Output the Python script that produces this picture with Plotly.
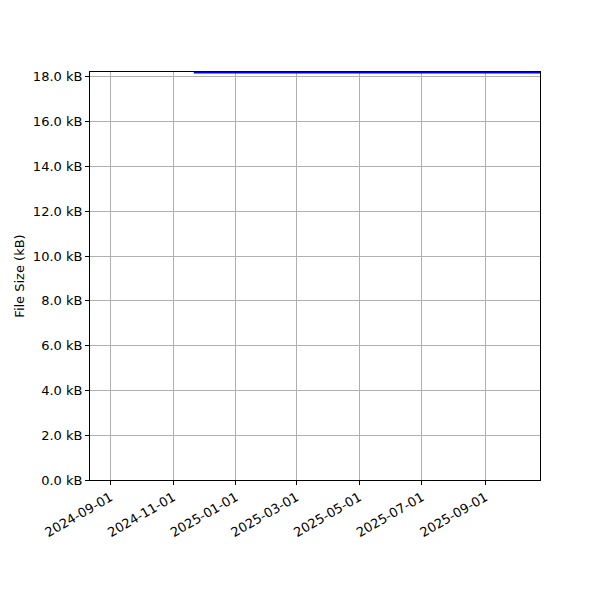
import plotly.graph_objects as go

# commit dates and file size (kB)
dates = ["2024-11-21", "2025-01-15", "2025-04-10", "2025-07-20", "2025-10-24"]
sizes_kb = [18.19, 18.19, 18.19, 18.19, 18.19]

tick_dates = ["2024-09-01", "2024-11-01", "2025-01-01", "2025-03-01",
              "2025-05-01", "2025-07-01", "2025-09-01"]
y_ticks = [0, 2, 4, 6, 8, 10, 12, 14, 16, 18]
y_labels = [f"{v:.1f} kB" for v in y_ticks]

fig = go.Figure()
fig.add_trace(go.Scatter(x=dates, y=sizes_kb, mode="lines", line_shape="hv",
                         line=dict(color="#0000ff", width=1.5),
                         showlegend=False))

axis_style = dict(showline=True, linecolor="black", linewidth=1, mirror=True,
                  showgrid=True, gridcolor="#b0b0b0", gridwidth=1,
                  ticks="outside", ticklen=4, tickcolor="black",
                  zeroline=False, tickfont=dict(size=13, color="black"))

fig.update_xaxes(range=["2024-08-12", "2025-10-24"], tickvals=tick_dates,
                 ticktext=tick_dates, tickangle=-30, **axis_style)
fig.update_yaxes(range=[0, 18.22], tickvals=y_ticks, ticktext=y_labels,
                 title=dict(text="File Size (kB)",
                            font=dict(size=13, color="black"), standoff=5),
                 **axis_style)

# page body adds ~8px offset, so margins are trimmed to land the axes at 90..540 / 72..480
fig.update_layout(
    width=600, height=600,
    margin=dict(l=82, r=68, t=64, b=128),
    plot_bgcolor="white", paper_bgcolor="white",
    font=dict(family="DejaVu Sans", size=13, color="black"),
)

fig.write_html("out.html")
